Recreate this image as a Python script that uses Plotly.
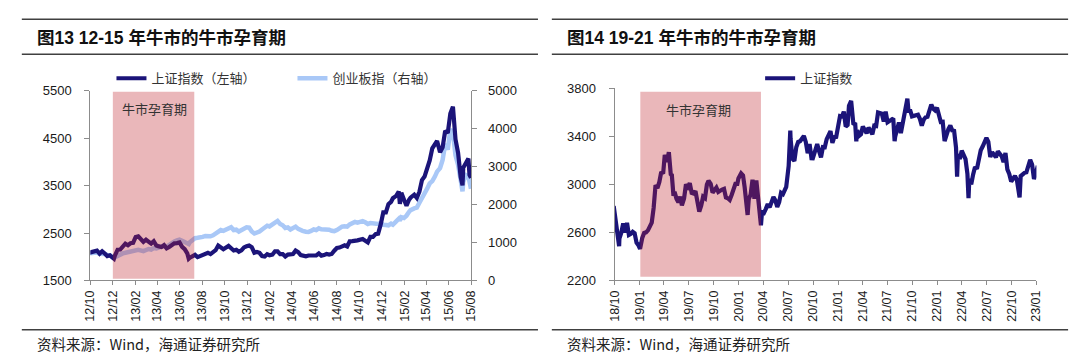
import plotly.graph_objects as go

# ---------------- Panel 1 data (2012-2015) ----------------
L_DATES = [
    "2012-09-28", "2012-10-08", "2012-10-12", "2012-10-19", "2012-10-26", "2012-11-02", "2012-11-09",
    "2012-11-16", "2012-11-23", "2012-11-30", "2012-12-04", "2012-12-07", "2012-12-14", "2012-12-21",
    "2012-12-28", "2013-01-04", "2013-01-11", "2013-01-18", "2013-01-25", "2013-02-01", "2013-02-08",
    "2013-02-22", "2013-03-01", "2013-03-08", "2013-03-15", "2013-03-22", "2013-03-29", "2013-04-03",
    "2013-04-12", "2013-04-19", "2013-04-26", "2013-05-03", "2013-05-10", "2013-05-17", "2013-05-24",
    "2013-05-31", "2013-06-07", "2013-06-14", "2013-06-21", "2013-06-25", "2013-06-28", "2013-07-05",
    "2013-07-12", "2013-07-19", "2013-07-26", "2013-08-02", "2013-08-09", "2013-08-16", "2013-08-23",
    "2013-08-30", "2013-09-06", "2013-09-13", "2013-09-20", "2013-09-27", "2013-10-11", "2013-10-18",
    "2013-10-25", "2013-11-01", "2013-11-08", "2013-11-15", "2013-11-22", "2013-11-29", "2013-12-06",
    "2013-12-13", "2013-12-20", "2013-12-27", "2014-01-03", "2014-01-10", "2014-01-17", "2014-01-24",
    "2014-01-30", "2014-02-07", "2014-02-14", "2014-02-21", "2014-02-28", "2014-03-07", "2014-03-14",
    "2014-03-21", "2014-03-28", "2014-04-04", "2014-04-11", "2014-04-18", "2014-04-25", "2014-04-30",
    "2014-05-09", "2014-05-16", "2014-05-23", "2014-05-30", "2014-06-06", "2014-06-13", "2014-06-20",
    "2014-06-27", "2014-07-04", "2014-07-11", "2014-07-18", "2014-07-25", "2014-08-01", "2014-08-08",
    "2014-08-15", "2014-08-22", "2014-08-29", "2014-09-05", "2014-09-12", "2014-09-19", "2014-09-26",
    "2014-10-10", "2014-10-17", "2014-10-24", "2014-10-31", "2014-11-07", "2014-11-14", "2014-11-21",
    "2014-11-28", "2014-12-05", "2014-12-12", "2014-12-19", "2014-12-26", "2014-12-31", "2015-01-09",
    "2015-01-16", "2015-01-19", "2015-01-23", "2015-01-30", "2015-02-06", "2015-02-13", "2015-02-17",
    "2015-02-27", "2015-03-06", "2015-03-13", "2015-03-20", "2015-03-27", "2015-04-03", "2015-04-10",
    "2015-04-17", "2015-04-24", "2015-04-30", "2015-05-08", "2015-05-15", "2015-05-22", "2015-05-29",
    "2015-06-05", "2015-06-12", "2015-06-19", "2015-06-26", "2015-07-03", "2015-07-08", "2015-07-10",
    "2015-07-17", "2015-07-24", "2015-07-27", "2015-07-31",
]
SH_L = [
    2086, 2115, 2104, 2128, 2066, 2117, 2069,
    2015, 2030, 1980, 1959, 2033, 2150, 2153,
    2233, 2276, 2243, 2285, 2292, 2419, 2433,
    2314, 2359, 2318, 2278, 2328, 2237, 2225,
    2206, 2244, 2177, 2205, 2247, 2282, 2288,
    2301, 2210, 2162, 2073, 1959, 1979, 2007,
    2039, 1992, 2010, 2029, 2052, 2085, 2057,
    2098, 2139, 2236, 2191, 2160, 2228, 2193,
    2133, 2149, 2106, 2135, 2197, 2220, 2237,
    2204, 2085, 2101, 2083, 2013, 2004, 2054,
    2033, 2044, 2115, 2113, 2056, 2057, 2004,
    2047, 2046, 2058, 2130, 2097, 2036, 2026,
    2011, 2027, 2034, 2039, 2030, 2070, 2024,
    2036, 2059, 2047, 2059, 2127, 2185, 2194,
    2226, 2241, 2217, 2326, 2331, 2329, 2347,
    2374, 2341, 2302, 2420, 2418, 2478, 2487,
    2683, 2938, 2938, 3109, 3157, 3235, 3285,
    3376, 3116, 3351, 3210, 3076, 3204, 3247,
    3310, 3241, 3373, 3617, 3691, 3863, 4034,
    4287, 4394, 4442, 4205, 4308, 4657, 4611,
    5023, 5166, 4478, 4193, 3687, 3507, 3878,
    3958, 4070, 3725, 3664,
]
CYB_L = [
    715, 725, 720, 735, 705, 715, 700,
    675, 665, 610, 590, 615, 655, 680,
    715, 730, 740, 760, 775, 795, 810,
    775, 805, 830, 815, 855, 845, 855,
    875, 915, 895, 945, 975, 1025, 1055,
    1075, 1045, 1015, 975, 960, 1010, 1060,
    1115, 1125, 1130, 1150, 1175, 1170, 1165,
    1190, 1230, 1290, 1330, 1310, 1390, 1405,
    1330, 1340, 1290, 1330, 1360, 1400, 1395,
    1290, 1240, 1255, 1290, 1345, 1385, 1445,
    1425, 1470, 1535, 1570, 1490, 1455, 1385,
    1400, 1345, 1385, 1420, 1360, 1320, 1310,
    1285, 1280, 1305, 1345, 1330, 1375, 1350,
    1355, 1360, 1340, 1310, 1300, 1330, 1380,
    1420, 1430, 1420, 1480, 1510, 1545, 1525,
    1565, 1535, 1490, 1515, 1500, 1515, 1490,
    1520, 1470, 1465, 1455, 1500, 1470, 1560,
    1625, 1580, 1670, 1650, 1710, 1810, 1855,
    1900, 1920, 2050, 2160, 2300, 2420, 2560,
    2620, 2740, 2870, 2960, 3180, 3600, 3450,
    3980, 3900, 3300, 3050, 2650, 2350, 2600,
    2780, 2750, 2500, 2420,
]
SHADE_L = ["2012-12-01", "2013-07-10"]

# ---------------- Panel 2 data (2018-2023) ----------------
R_DATES = [
    "2018-09-28", "2018-10-12", "2018-10-18", "2018-10-19", "2018-10-26", "2018-11-02", "2018-11-09",
    "2018-11-16", "2018-11-23", "2018-11-30", "2018-12-07", "2018-12-14", "2018-12-21", "2018-12-28",
    "2019-01-03", "2019-01-11", "2019-01-18", "2019-01-25", "2019-02-01", "2019-02-15", "2019-02-22",
    "2019-03-01", "2019-03-08", "2019-03-15", "2019-03-22", "2019-03-29", "2019-04-04", "2019-04-12",
    "2019-04-19", "2019-04-26", "2019-04-30", "2019-05-06", "2019-05-10", "2019-05-17", "2019-05-24",
    "2019-05-31", "2019-06-06", "2019-06-14", "2019-06-21", "2019-06-28", "2019-07-05", "2019-07-12",
    "2019-07-19", "2019-07-26", "2019-08-02", "2019-08-09", "2019-08-16", "2019-08-23", "2019-08-30",
    "2019-09-06", "2019-09-12", "2019-09-20", "2019-09-27", "2019-10-11", "2019-10-18", "2019-10-25",
    "2019-11-01", "2019-11-08", "2019-11-15", "2019-11-22", "2019-11-29", "2019-12-06", "2019-12-13",
    "2019-12-20", "2019-12-27", "2019-12-31", "2020-01-10", "2020-01-17", "2020-01-23", "2020-02-03",
    "2020-02-07", "2020-02-14", "2020-02-21", "2020-02-28", "2020-03-06", "2020-03-13", "2020-03-20",
    "2020-03-23", "2020-03-27", "2020-04-03", "2020-04-10", "2020-04-17", "2020-04-24", "2020-04-30",
    "2020-05-08", "2020-05-15", "2020-05-22", "2020-05-29", "2020-06-05", "2020-06-12", "2020-06-19",
    "2020-06-24", "2020-07-03", "2020-07-09", "2020-07-10", "2020-07-17", "2020-07-24", "2020-07-31",
    "2020-08-07", "2020-08-14", "2020-08-21", "2020-08-28", "2020-09-04", "2020-09-11", "2020-09-18",
    "2020-09-25", "2020-09-30", "2020-10-16", "2020-10-23", "2020-10-30", "2020-11-06", "2020-11-13",
    "2020-11-20", "2020-11-27", "2020-12-04", "2020-12-11", "2020-12-18", "2020-12-25", "2020-12-31",
    "2021-01-08", "2021-01-15", "2021-01-22", "2021-01-29", "2021-02-05", "2021-02-10", "2021-02-18",
    "2021-02-26", "2021-03-05", "2021-03-09", "2021-03-12", "2021-03-19", "2021-03-26", "2021-04-02",
    "2021-04-09", "2021-04-16", "2021-04-23", "2021-04-30", "2021-05-07", "2021-05-14", "2021-05-21",
    "2021-05-28", "2021-06-04", "2021-06-11", "2021-06-18", "2021-06-25", "2021-07-02", "2021-07-09",
    "2021-07-16", "2021-07-23", "2021-07-28", "2021-07-30", "2021-08-06", "2021-08-13", "2021-08-20",
    "2021-08-27", "2021-09-03", "2021-09-13", "2021-09-17", "2021-09-24", "2021-09-30", "2021-10-15",
    "2021-10-22", "2021-10-29", "2021-11-05", "2021-11-12", "2021-11-19", "2021-11-26", "2021-12-03",
    "2021-12-10", "2021-12-17", "2021-12-24", "2021-12-31", "2022-01-07", "2022-01-14", "2022-01-21",
    "2022-01-28", "2022-02-11", "2022-02-18", "2022-02-25", "2022-03-04", "2022-03-11", "2022-03-15",
    "2022-03-18", "2022-03-25", "2022-04-01", "2022-04-08", "2022-04-15", "2022-04-22", "2022-04-26",
    "2022-04-29", "2022-05-06", "2022-05-13", "2022-05-20", "2022-05-27", "2022-06-02", "2022-06-10",
    "2022-06-17", "2022-06-24", "2022-07-01", "2022-07-08", "2022-07-15", "2022-07-22", "2022-07-29",
    "2022-08-05", "2022-08-12", "2022-08-19", "2022-08-26", "2022-09-02", "2022-09-09", "2022-09-16",
    "2022-09-23", "2022-09-30", "2022-10-14", "2022-10-21", "2022-10-28", "2022-10-31", "2022-11-04",
    "2022-11-11", "2022-11-18", "2022-11-25", "2022-12-02", "2022-12-09", "2022-12-16", "2022-12-23",
    "2022-12-30", "2023-01-06",
]
SH_R = [
    2821, 2606, 2486, 2550, 2598, 2676, 2599,
    2680, 2579, 2588, 2606, 2594, 2516, 2494,
    2464, 2554, 2596, 2601, 2618, 2682, 2804,
    2994, 2969, 3021, 3104, 3090, 3247, 3189,
    3270, 3086, 3078, 2906, 2939, 2882, 2852,
    2898, 2827, 2882, 3001, 2979, 3011, 2930,
    2924, 2945, 2868, 2774, 2824, 2898, 2886,
    2999, 3031, 3006, 2932, 2974, 2938, 2954,
    2958, 2964, 2891, 2885, 2871, 2912, 2967,
    3005, 3005, 3050, 3092, 3075, 2977, 2746,
    2876, 2917, 3039, 2880, 3034, 2887, 2745,
    2660, 2772, 2764, 2797, 2838, 2809, 2860,
    2895, 2868, 2813, 2852, 2930, 2919, 2968,
    2980, 3153, 3450, 3383, 3214, 3197, 3310,
    3354, 3360, 3381, 3404, 3355, 3260, 3338,
    3219, 3218, 3336, 3278, 3225, 3312, 3310,
    3378, 3408, 3445, 3347, 3395, 3397, 3473,
    3570, 3566, 3607, 3483, 3496, 3656, 3696,
    3509, 3502, 3360, 3453, 3405, 3418, 3484,
    3451, 3427, 3474, 3447, 3419, 3490, 3487,
    3600, 3592, 3590, 3525, 3607, 3519, 3525,
    3539, 3550, 3361, 3397, 3458, 3517, 3427,
    3522, 3581, 3715, 3614, 3613, 3568, 3572,
    3582, 3547, 3491, 3539, 3560, 3564, 3607,
    3666, 3632, 3618, 3640, 3580, 3521, 3522,
    3361, 3462, 3491, 3451, 3447, 3309, 3064,
    3251, 3212, 3282, 3252, 3211, 3087, 2886,
    3047, 3001, 3084, 3146, 3130, 3195, 3285,
    3316, 3349, 3388, 3356, 3228, 3269, 3253,
    3227, 3276, 3258, 3236, 3186, 3262, 3126,
    3088, 3024, 3071, 3038, 2916, 2893, 3070,
    3087, 3097, 3101, 3156, 3206, 3167, 3045,
    3089, 3157,
]
SHADE_R = ["2019-01-04", "2020-03-23"]

TITLE_L = "<b>图13 12-15 年牛市的牛市孕育期</b>"
TITLE_R = "<b>图14 19-21 年牛市的牛市孕育期</b>"
SOURCE = "资料来源：Wind，海通证券研究所"
SHADE_LABEL = "牛市孕育期"

DARK = "#1b1479"
LIGHT = "#a9c8f7"
AXIS = "#8c8c8c"
NUM_FONT = "Liberation Sans, Arial, Noto Sans CJK SC"
CJK_FONT = "Noto Sans CJK SC, Liberation Sans"

fig = go.Figure()

# ChiNext on main left-panel axis (right side), Shanghai on overlay (drawn on top)
fig.add_trace(go.Scatter(x=L_DATES, y=CYB_L, mode="lines", name="创业板指（右轴）",
                         line=dict(color=LIGHT, width=4.5), xaxis="x", yaxis="y",
                         legend="legend", legendrank=2))
fig.add_trace(go.Scatter(x=L_DATES, y=SH_L, mode="lines", name="上证指数（左轴）",
                         line=dict(color=DARK, width=4.2), xaxis="x", yaxis="y2",
                         legend="legend", legendrank=1))
fig.add_trace(go.Scatter(x=R_DATES, y=SH_R, mode="lines", name="上证指数",
                         line=dict(color=DARK, width=4.2), xaxis="x2", yaxis="y3",
                         legend="legend2"))

tick_common = dict(showgrid=False, zeroline=False, showline=True, linecolor=AXIS, linewidth=1,
                   ticks="outside", tickcolor=AXIS, ticklen=5,
                   tickfont=dict(family=NUM_FONT, size=13, color="#1a1a1a"))

xcommon = dict(showgrid=False, zeroline=False, showline=True, linecolor=AXIS, linewidth=1,
               ticks="outside", tickcolor=AXIS, ticklen=4, type="date", tickformat="%y/%m",
               tickangle=-90, tickfont=dict(family=NUM_FONT, size=12.5, color="#1a1a1a"))

fig.update_layout(
    width=1080, height=362,
    margin=dict(l=0, r=0, t=0, b=0),
    paper_bgcolor="white", plot_bgcolor="white",
    xaxis=dict(domain=[0.0782, 0.4356], anchor="y", range=["2012-10-01", "2015-08-01"],
               tick0="2012-10-01", dtick="M2", **xcommon),
    yaxis=dict(domain=[0.2119, 0.7583], anchor="x", side="right", range=[0, 5000],
               tick0=0, dtick=1000, ticklabelstandoff=8, **tick_common),
    yaxis2=dict(overlaying="y", anchor="x", side="left", range=[1500, 5500],
                tick0=1500, dtick=1000, ticklabelstandoff=10, **tick_common),
    xaxis2=dict(domain=[0.5699, 0.9657], anchor="y3", range=["2018-10-01", "2023-01-01"],
                tick0="2018-10-01", dtick="M3", **xcommon),
    yaxis3=dict(domain=[0.2119, 0.7652], anchor="x2", side="left", range=[2200, 3800],
                tick0=2200, dtick=400, ticklabelstandoff=10, **tick_common),
    legend=dict(orientation="h", x=0.098, y=0.7945, xanchor="left", yanchor="middle",
                font=dict(family=CJK_FONT, size=13, color="#333333"),
                bgcolor="rgba(0,0,0,0)", entrywidth=136, entrywidthmode="pixels",
                traceorder="normal"),
    legend2=dict(orientation="h", x=0.7065, y=0.7945, xanchor="left", yanchor="middle",
                 font=dict(family=CJK_FONT, size=13, color="#333333"),
                 bgcolor="rgba(0,0,0,0)"),
    showlegend=True,
)

SHADE_FILL = "rgba(190,30,40,0.32)"
fig.add_shape(type="rect", xref="x", yref="y2", x0=SHADE_L[0], x1=SHADE_L[1], y0=1535, y1=5480,
              fillcolor=SHADE_FILL, line=dict(width=0), layer="above")
fig.add_shape(type="rect", xref="x2", yref="y3", x0=SHADE_R[0], x1=SHADE_R[1], y0=2232, y1=3772,
              fillcolor=SHADE_FILL, line=dict(width=0), layer="above")

fig.add_annotation(x="2013-03-24", y=5130, xref="x", yref="y2", text=SHADE_LABEL, showarrow=False,
                   font=dict(family=CJK_FONT, size=13, color="#333333"))
fig.add_annotation(x="2019-08-05", y=3628, xref="x2", yref="y3", text=SHADE_LABEL, showarrow=False,
                   font=dict(family=CJK_FONT, size=13, color="#333333"))

# Panel titles, rules and source notes
for x0, x1, title in [(0.0139, 0.4981, TITLE_L), (0.5111, 0.9954, TITLE_R)]:
    for yy in (0.9646, 0.8641, 0.0696):
        fig.add_shape(type="line", xref="paper", yref="paper", x0=x0, x1=x1, y0=yy, y1=yy,
                      line=dict(color="#404040", width=1.5))
    fig.add_annotation(x=x0 + 0.0127, y=0.9116, xref="paper", yref="paper", xanchor="left",
                       yanchor="middle", text=title, showarrow=False,
                       font=dict(family=NUM_FONT, size=17.5, color="#111111"))
    fig.add_annotation(x=x0 + 0.0127, y=0.0295, xref="paper", yref="paper", xanchor="left",
                       yanchor="middle", text=SOURCE, showarrow=False,
                       font=dict(family=CJK_FONT, size=14.5, color="#222222"))

fig.write_html("out.html", config={"displayModeBar": False},
               post_script="document.body.style.margin='0';document.body.style.overflow='hidden';")
